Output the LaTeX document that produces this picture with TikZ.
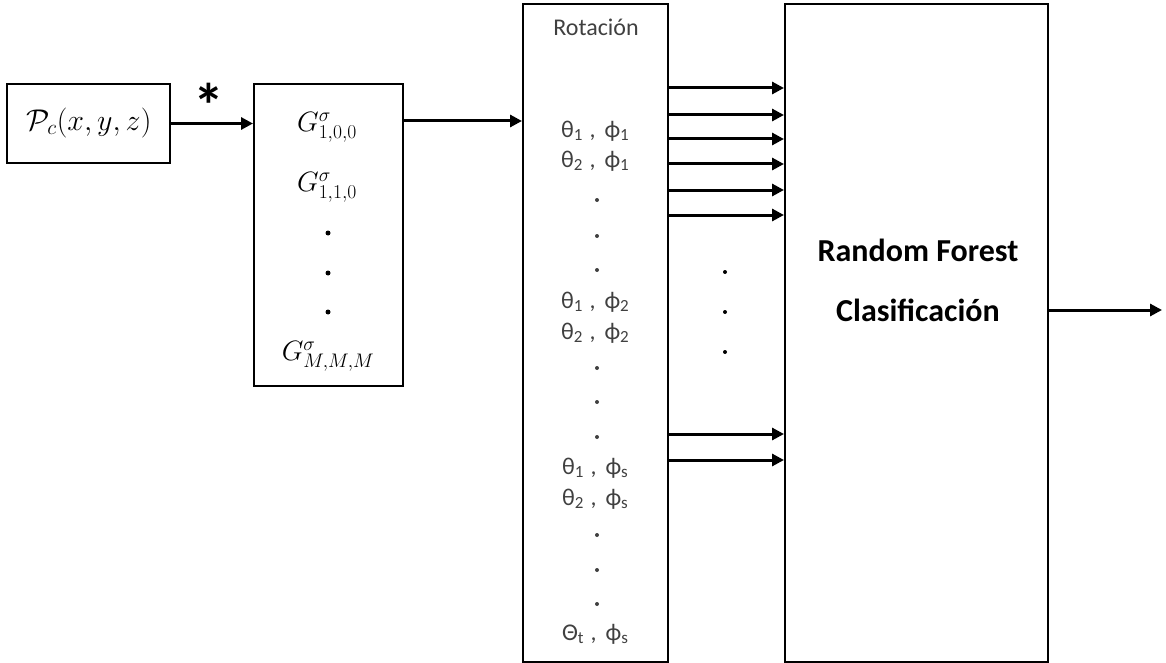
\documentclass[tikz,border=0pt]{standalone}
\usepackage{fix-cm}
\usepackage{fontspec}
\newfontfamily\calib{Carlito}
\usetikzlibrary{arrows.meta,calc}
\definecolor{txtgray}{HTML}{404040}
\tikzset{
  blk/.style={draw, line width=2pt, inner sep=0pt},
  arr/.style={line width=3pt, -{Triangle[length=12pt,width=12pt]}},
  rowtxt/.style={font=\calib\fontsize{24}{26}\selectfont, text=txtgray, inner sep=0pt},
  mtxt/.style={font=\fontsize{30}{36}\selectfont, inner sep=0pt},
  gtxt/.style={font=\fontsize{28}{34}\selectfont, inner sep=0pt},
  rftxt/.style={font=\calib\bfseries\fontsize{32}{34}\selectfont, inner sep=0pt},
  dotm/.style={circle, fill=black, inner sep=0pt, minimum size=5pt},
  dotr/.style={circle, fill=txtgray, inner sep=0pt, minimum size=4pt},
}
% letter with a lowered, smaller index
\newcommand{\tp}[2]{#1\raisebox{-3pt}{\fontsize{17}{17}\selectfont #2}}
% angle pair: letter/index, comma, letter/index
\newcommand{\pairrow}[4]{\tp{#1}{#2}\hspace{7pt},\hspace{9pt}\tp{#3}{#4}}
\begin{document}
\begin{tikzpicture}[x=1pt,y=-1pt]
\useasboundingbox (0,0) rectangle (1166,663);
% blocks
\node[blk, minimum width=163pt, minimum height=79pt] (pc) at (88.5,123.5) {};
\node[blk, minimum width=149pt, minimum height=302pt] (gb) at (328.5,235) {};
\node[blk, minimum width=145pt, minimum height=658pt] (rot) at (595.5,333) {};
\node[blk, minimum width=263pt, minimum height=658pt] (rf) at (916.5,333) {};
% input function and convolution mark
\node[mtxt] (pctxt) at (89,123) {$\mathcal{P}_c(x,y,z)$};
\node[font=\calib\bfseries\fontsize{62}{62}\selectfont, inner sep=0pt, anchor=base] (star) at (209,128) {*};
% filter bank
\node[gtxt] (g1) at (327,127) {$G^{\sigma}_{1,0,0}$};
\node[gtxt] (g2) at (327,187) {$G^{\sigma}_{1,1,0}$};
\node[dotm] (gd1) at (328,233) {};
\node[dotm] (gd2) at (328,273) {};
\node[dotm] (gd3) at (328,312) {};
\node[gtxt] (g3) at (328,356) {$G^{\sigma}_{M,M,M}$};
% rotations
\node[rowtxt] (rt) at (596,27) {Rotación};
\node[rowtxt] (a1) at (595,131) {\pairrow{θ}{1}{ϕ}{1}};
\node[rowtxt] (a2) at (595,161) {\pairrow{θ}{2}{ϕ}{1}};
\node[dotr] (ad1) at (597,200) {};
\node[dotr] (ad2) at (597,236) {};
\node[dotr] (ad3) at (597,270) {};
\node[rowtxt] (b1) at (595,302) {\pairrow{θ}{1}{ϕ}{2}};
\node[rowtxt] (b2) at (595,333) {\pairrow{θ}{2}{ϕ}{2}};
\node[dotr] (bd1) at (597,368) {};
\node[dotr] (bd2) at (597,402) {};
\node[dotr] (bd3) at (597,437) {};
\node[rowtxt] (c1) at (595,468) {\pairrow{θ}{1}{ϕ}{s}};
\node[rowtxt] (c2) at (595,499) {\pairrow{θ}{2}{ϕ}{s}};
\node[dotr] (cd1) at (597,535) {};
\node[dotr] (cd2) at (597,570) {};
\node[dotr] (cd3) at (597,604) {};
\node[rowtxt] (c3) at (595,634) {\pairrow{Θ}{t}{ϕ}{s}};
% classifier
\node[rftxt] (rf1) at (918,250) {Random Forest};
\node[rftxt] (rf2) at (918,310) {Clasificación};
\node[dotm, minimum size=4pt] (md1) at (725,272) {};
\node[dotm, minimum size=4pt] (md2) at (725,312) {};
\node[dotm, minimum size=4pt] (md3) at (725,352) {};
% connectors
\draw[arr] (pc.east) -- (pc.east -| gb.west);
\draw[arr] ($(gb.north east)+(0,38)$) -- ($(rot.north west)+(0,118)$);
\foreach \y [count=\i] in {88,115,139,164,190,215,434,460} {
  \coordinate (f\i) at (0,\y);
  \draw[arr] (rot.east |- f\i) -- (rf.west |- f\i);
}
\coordinate (out) at (1162,310);
\draw[arr] (rf.east |- out) -- (out);
\end{tikzpicture}
\end{document}
